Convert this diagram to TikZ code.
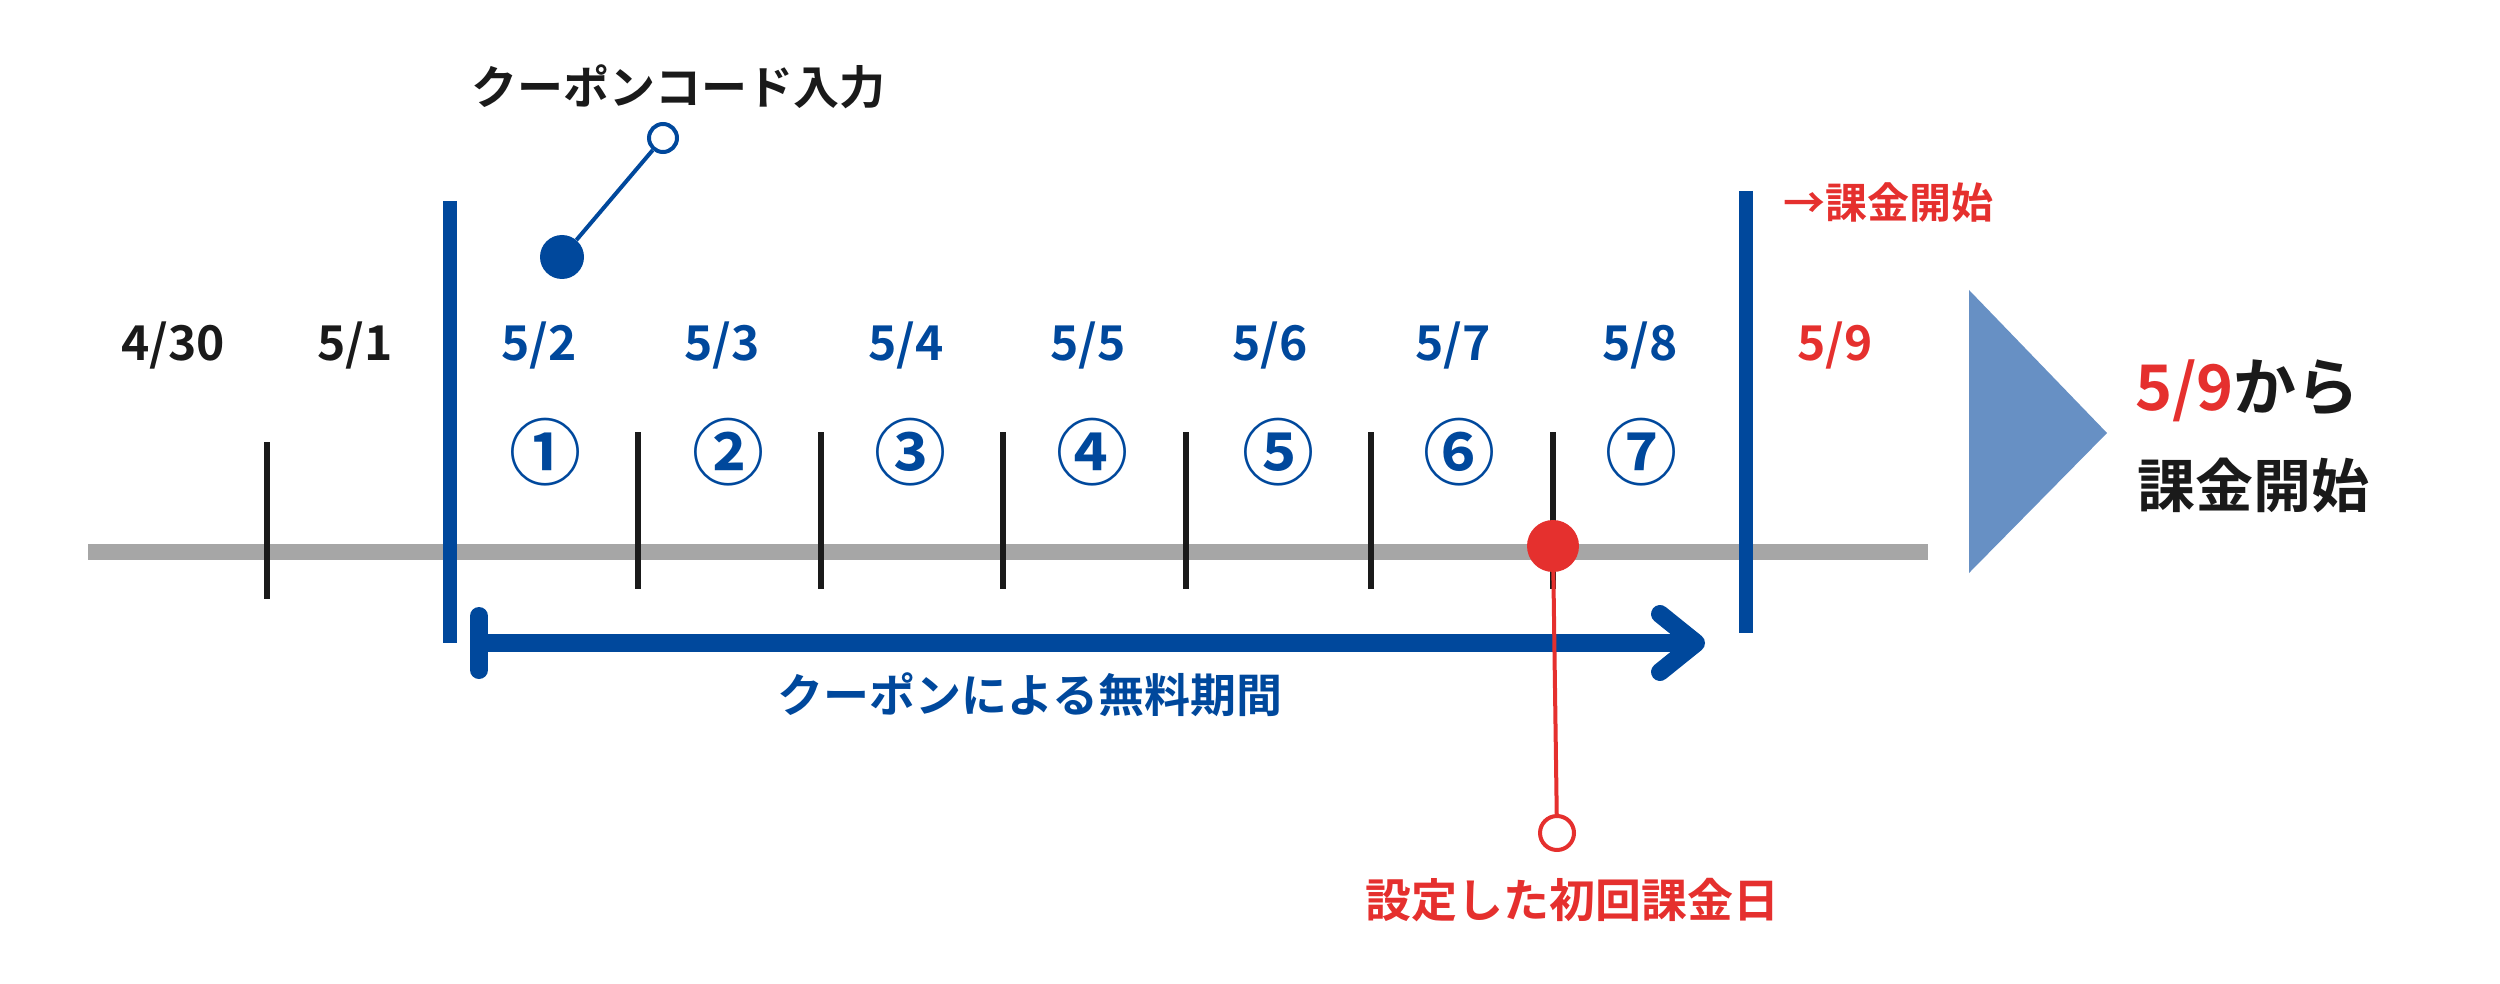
\documentclass[tikz,border=0pt]{standalone}
\usepackage{fontspec}
\setmainfont{Noto Sans CJK JP}[BoldFont={Noto Sans CJK JP Bold}]
\usetikzlibrary{arrows.meta}
\definecolor{cblue}{RGB}{0,72,156}
\definecolor{cred}{RGB}{229,48,46}
\definecolor{cgray}{RGB}{166,166,166}
\definecolor{cblack}{RGB}{26,26,26}
\definecolor{ctri}{RGB}{103,144,196}
\begin{document}
\begin{tikzpicture}[x=1pt,y=-1pt,
  lbl/.style={font=\bfseries\fontsize{46}{50}\selectfont, inner sep=0pt},
  datelbl/.style={font=\bfseries\fontsize{48}{52}\selectfont, inner sep=0pt},
  cnum/.style={font=\bfseries\fontsize{72}{76}\selectfont, inner sep=0pt, text=cblue},
  tickline/.style={line width=6pt, draw=cblack},
  vbar/.style={line width=14pt, draw=cblue},
  fdot/.style={circle, inner sep=0pt, minimum size=#1},
  odot/.style={circle, inner sep=0pt, minimum size=#1, line width=4pt, fill=white},
]
\useasboundingbox (0,0) rectangle (2500,984);
% timeline
\draw[cgray, line width=16pt] (88,552) -- (1928,552);
% ticks
\draw[tickline] (267,442) -- (267,599);
\foreach \x in {638,821,1003,1186,1371,1553}{
  \draw[tickline] (\x,432) -- (\x,589);
}
% blue bars
\draw[vbar] (450,201) -- (450,643);
\draw[vbar] (1746,191) -- (1746,633);
% coupon code callout
\node[lbl, text=cblack] (title) at (678,87) {クーポンコード入力};
\node[fdot=44pt, fill=cblue] (cc) at (562,257) {};
\node[odot=28pt, draw=cblue] (co) at (663,138) {};
\draw[cblue, line width=4pt] (cc) -- (co);
% dates
\node[datelbl, text=cblack] (d430) at (173,345) {4/30};
\node[datelbl, text=cblack] (d51) at (355,345) {5/1};
\node[datelbl, text=cblue] (d52) at (539,345) {5/2};
\node[datelbl, text=cblue] (d53) at (722,345) {5/3};
\node[datelbl, text=cblue] (d54) at (906,345) {5/4};
\node[datelbl, text=cblue] (d55) at (1088,345) {5/5};
\node[datelbl, text=cblue] (d56) at (1270,345) {5/6};
\node[datelbl, text=cblue] (d57) at (1453,345) {5/7};
\node[datelbl, text=cblue] (d58) at (1640,345) {5/8};
\node[datelbl, text=cred] (d59) at (1835,345) {5/9};
% circled numbers
\node[cnum] (n1) at (545,452) {①};
\node[cnum] (n2) at (728,452) {②};
\node[cnum] (n3) at (910,452) {③};
\node[cnum] (n4) at (1092,452) {④};
\node[cnum] (n5) at (1278,452) {⑤};
\node[cnum] (n6) at (1459,452) {⑥};
\node[cnum] (n7) at (1641,452) {⑦};
% free period arrow
\coordinate (as) at (470,643);
\coordinate (ae) at (1705,643);
\draw[cblue, line width=18pt, {Bar[width=54pt,round]}-{Straight Barb[length=36pt,width=58pt,round]}] (as) -- (ae);
\node[lbl, text=cblue] (free) at (1030,695) {クーポンによる無料期間};
% first billing date
\node[odot=34pt, draw=cred] (ro) at (1557,833) {};
\draw[cred, line width=4pt] (1553,546) -- (ro);
\node[fdot=52pt, fill=cred] (rd) at (1553,546) {};
\node[lbl, text=cred] (setday) at (1572,900) {設定した初回課金日};
% billing start
\node[font=\bfseries\fontsize{42}{46}\selectfont, inner sep=0pt, text=cred, anchor=west] (bs) at (1783,203) {→課金開始};
% big triangle
\fill[ctri] (1969,290) -- (2107,433) -- (1969,573) -- cycle;
\node[font=\bfseries\fontsize{63}{67}\selectfont, inner sep=0pt, text=cblack, anchor=west] (from) at (2135,391) {\textcolor{cred}{5/9}から};
\node[font=\bfseries\fontsize{58}{62}\selectfont, inner sep=0pt, text=cblack, anchor=west] (start) at (2137,485) {課金開始};
\end{tikzpicture}
\end{document}
